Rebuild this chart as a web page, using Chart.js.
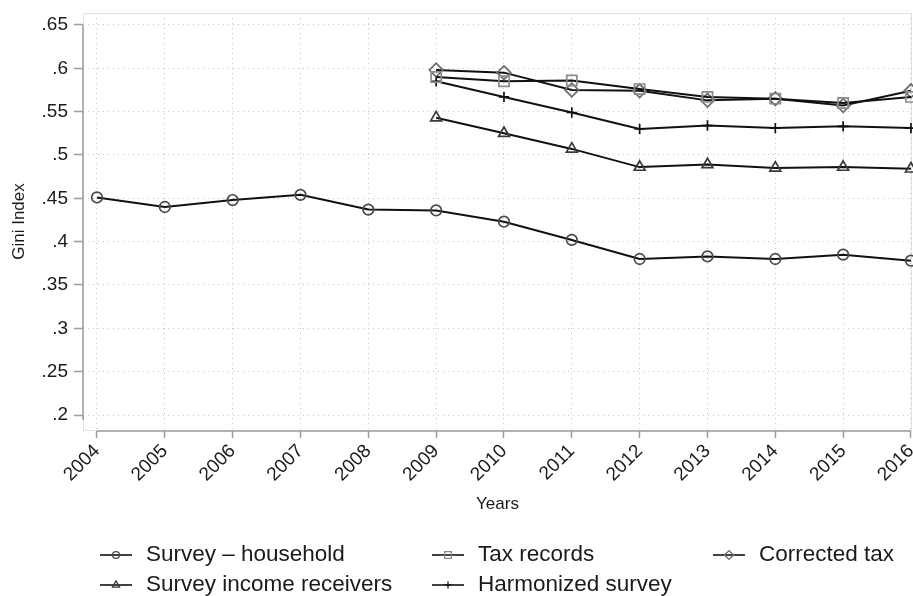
<!DOCTYPE html>
<html lang="en">
<head>
    <meta charset="UTF-8">
    <title>Gini Index</title>
    <script src="https://cdn.jsdelivr.net/npm/chart.js"></script>
    <style>
        body {
            margin: 0;
            background: #fff;
        }
        #wrap {
            width: 913px;
            height: 596px;
        }
    </style>
</head>
<body>
    <div id="wrap">
        <canvas id="giniChart" width="913" height="596"></canvas>
    </div>

    <script>
        // years on the x axis
        const years = [2004, 2005, 2006, 2007, 2008, 2009, 2010, 2011, 2012, 2013, 2014, 2015, 2016];
        const taxYears = [2009, 2010, 2011, 2012, 2013, 2014, 2015, 2016];

        // Gini values per series
        const surveyHousehold = [0.451, 0.440, 0.448, 0.454, 0.437, 0.436, 0.423, 0.402, 0.380, 0.383, 0.380, 0.385, 0.378];
        const taxRecords = [0.590, 0.585, 0.586, 0.576, 0.567, 0.565, 0.560, 0.567];
        const correctedTax = [0.598, 0.595, 0.575, 0.574, 0.563, 0.565, 0.557, 0.574];
        const incomeReceivers = [0.543, 0.525, 0.507, 0.486, 0.489, 0.485, 0.486, 0.484];
        const harmonizedSurvey = [0.585, 0.567, 0.549, 0.530, 0.534, 0.531, 0.533, 0.531];

        // y axis ticks and their labels
        const yTicks = [0.2, 0.25, 0.3, 0.35, 0.4, 0.45, 0.5, 0.55, 0.6, 0.65];
        const yTickLabels = ['.2', '.25', '.3', '.35', '.4', '.45', '.5', '.55', '.6', '.65'];

        const FONT = "'Liberation Sans', Arial, sans-serif";

        function toPoints(xs, ys) {
            return xs.map((x, i) => ({ x: x, y: ys[i] }));
        }

        function series(label, xs, ys, style, radius, color) {
            return {
                label: label,
                data: toPoints(xs, ys),
                borderColor: '#111',
                borderWidth: 2,
                tension: 0,
                fill: false,
                clip: false,
                pointStyle: style,
                pointRadius: radius,
                pointHoverRadius: radius,
                pointBorderColor: color,
                pointBackgroundColor: 'rgba(0,0,0,0)',
                pointBorderWidth: 1.7
            };
        }

        // light frame round the plot region and Stata-like axis lines
        const framePlugin = {
            id: 'frame',
            beforeDatasetsDraw(chart) {
                const { ctx, chartArea: a, scales: { x, y } } = chart;
                ctx.save();
                ctx.strokeStyle = '#e2e2e2';
                ctx.lineWidth = 1;
                ctx.strokeRect(a.left + 0.5, a.top + 0.5, a.right - a.left - 1, a.bottom - a.top);
                ctx.strokeStyle = '#9c9c9c';
                ctx.lineWidth = 1.5;
                ctx.beginPath();
                ctx.moveTo(x.getPixelForValue(years[0]), a.bottom + 1);
                ctx.lineTo(x.getPixelForValue(years[years.length - 1]), a.bottom + 1);
                ctx.moveTo(a.left, y.getPixelForValue(yTicks[yTicks.length - 1]));
                ctx.lineTo(a.left, y.getPixelForValue(yTicks[0]) + 5);
                ctx.stroke();
                ctx.restore();
            }
        };

        // legend in three columns below the chart
        const legendCols = [100, 432, 713];
        const legendRows = [555, 585];
        const legendPlugin = {
            id: 'gridLegend',
            afterDraw(chart) {
                const ctx = chart.ctx;
                ctx.save();
                chart.data.datasets.forEach((ds, i) => {
                    const cx = legendCols[i % 3];
                    const cy = legendRows[Math.floor(i / 3)];
                    ctx.strokeStyle = '#111';
                    ctx.lineWidth = 1.6;
                    ctx.beginPath();
                    ctx.moveTo(cx, cy);
                    ctx.lineTo(cx + 32, cy);
                    ctx.stroke();
                    ctx.strokeStyle = ds.pointBorderColor;
                    ctx.lineWidth = 1.3;
                    ctx.fillStyle = 'rgba(0,0,0,0)';
                    Chart.helpers.drawPoint(ctx, {
                        pointStyle: ds.pointStyle,
                        radius: ds.pointRadius * 0.65,
                        rotation: 0,
                        borderWidth: 1.3
                    }, cx + 16, cy);
                    ctx.fillStyle = '#1a1a1a';
                    ctx.font = '22.5px ' + FONT;
                    ctx.textBaseline = 'middle';
                    ctx.textAlign = 'left';
                    ctx.fillText(ds.label, cx + 46, cy);
                });
                ctx.restore();
            }
        };

        const ctx = document.getElementById('giniChart').getContext('2d');
        const giniChart = new Chart(ctx, {
            type: 'line',
            data: {
                datasets: [
                    series('Survey \u2013 household', years, surveyHousehold, 'circle', 5.3, '#4a4a4a'),
                    series('Tax records', taxYears, taxRecords, 'rect', 7.2, '#8a8a8a'),
                    series('Corrected tax', taxYears, correctedTax, 'rectRot', 6.8, '#6a6a6a'),
                    series('Survey income receivers', taxYears, incomeReceivers, 'triangle', 6.3, '#3a3a3a'),
                    series('Harmonized survey', taxYears, harmonizedSurvey, 'cross', 5.2, '#111')
                ]
            },
            options: {
                responsive: false,
                animation: false,
                devicePixelRatio: 1,
                layout: {
                    autoPadding: false,
                    padding: { left: 0, top: 13, right: 1, bottom: 81 }
                },
                plugins: {
                    legend: { display: false },
                    tooltip: { enabled: false }
                },
                scales: {
                    x: {
                        type: 'linear',
                        min: 2003.794,
                        max: 2016.015,
                        afterBuildTicks: (scale) => {
                            scale.ticks = years.map(v => ({ value: v }));
                        },
                        afterFit: (scale) => {
                            scale.height = 85;
                            scale.paddingLeft = 0;
                            scale.paddingRight = 0;
                        },
                        grid: {
                            color: '#c4c4c4',
                            lineWidth: 1,
                            tickColor: '#9c9c9c',
                            tickLength: 8,
                            tickWidth: 1.5,
                            tickBorderDash: []
                        },
                        border: { display: false, dash: [1, 4] },
                        ticks: {
                            autoSkip: false,
                            minRotation: 45,
                            maxRotation: 45,
                            padding: 2,
                            color: '#1a1a1a',
                            font: { family: FONT, size: 19 },
                            callback: (v) => String(v)
                        },
                        title: {
                            display: true,
                            text: 'Years',
                            color: '#1a1a1a',
                            font: { family: FONT, size: 17 },
                            padding: { top: 0, bottom: 0 }
                        }
                    },
                    y: {
                        type: 'linear',
                        min: 0.1827,
                        max: 0.6638,
                        afterBuildTicks: (scale) => {
                            scale.ticks = yTicks.map(v => ({ value: v }));
                        },
                        afterFit: (scale) => {
                            scale.width = 83;
                            scale.paddingTop = 0;
                            scale.paddingBottom = 0;
                        },
                        grid: {
                            color: '#c4c4c4',
                            lineWidth: 1,
                            tickColor: '#9c9c9c',
                            tickLength: 9,
                            tickWidth: 1.5,
                            tickBorderDash: []
                        },
                        border: { display: false, dash: [1, 4] },
                        ticks: {
                            padding: 6,
                            color: '#1a1a1a',
                            font: { family: FONT, size: 19 },
                            callback: (v) => yTickLabels[yTicks.findIndex(t => Math.abs(t - v) < 1e-6)]
                        },
                        title: {
                            display: true,
                            text: 'Gini Index',
                            color: '#1a1a1a',
                            font: { family: FONT, size: 17 },
                            padding: { top: 9, bottom: 0 }
                        }
                    }
                }
            },
            plugins: [framePlugin, legendPlugin]
        });
    </script>
</body>
</html>
